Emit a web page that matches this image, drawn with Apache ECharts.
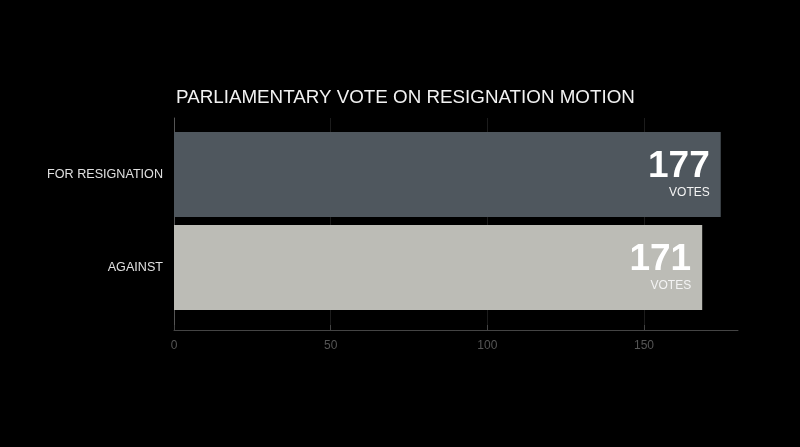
<!DOCTYPE html>
<html><head><meta charset="utf-8">
<script src="https://cdn.jsdelivr.net/npm/echarts@6/dist/echarts.min.js"></script>
<style>html,body{margin:0;padding:0;background:#000;}#c{width:800px;height:447px;}</style>
</head><body><div id="c"></div>
<script>
const categories = ['FOR RESIGNATION', 'AGAINST'];
const votes = [177, 171];
const barColors = ['#4f575e', '#bcbcb6'];
const xTicks = [0, 50, 100, 150];
const titleText = 'PARLIAMENTARY VOTE ON RESIGNATION MOTION';
const unitText = 'VOTES';

const FONT = '"Liberation Sans", Arial, sans-serif';
const chart = echarts.init(document.getElementById('c'));
chart.setOption({
  backgroundColor: '#000',
  animation: false,
  title: {
    text: titleText, left: 171, top: 83,
    textStyle: { color: '#f2f2f2', fontSize: 18.8, fontWeight: 'normal', fontFamily: FONT }
  },
  grid: [
    { left: 174, right: 70, top: 128, bottom: 133 },
    { left: 174, right: 62, top: 118, bottom: 117 }
  ],
  xAxis: [
    { gridIndex: 0, type: 'value', min: 0, max: 180, interval: 50, show: false },
    { gridIndex: 1, type: 'value', min: 0, max: 180, interval: 50,
      axisLine: { show: true, lineStyle: { color: '#444', width: 1 } },
      axisTick: { show: true, inside: true, length: 5, customValues: xTicks, lineStyle: { color: '#444' } },
      splitLine: { show: true, showMinLine: false, showMaxLine: true, lineStyle: { color: '#1c1c1c', width: 1 } },
      axisLabel: { color: '#555', fontSize: 12, margin: 10, fontFamily: FONT, customValues: xTicks } }
  ],
  yAxis: [
    { gridIndex: 0, type: 'category', data: categories, inverse: true,
      axisLine: { show: false }, axisTick: { show: false }, splitLine: { show: false },
      axisLabel: { color: '#e0e0e0', fontSize: 12.6, margin: 11, fontFamily: FONT, padding: [4, 0, 0, 0] } },
    { gridIndex: 1, type: 'value', min: 0, max: 1,
      axisLine: { show: true, lineStyle: { color: '#555', width: 1 } },
      axisTick: { show: false }, axisLabel: { show: false }, splitLine: { show: false } }
  ],
  series: [{
    type: 'bar', xAxisIndex: 0, yAxisIndex: 0, barWidth: 85,
    data: votes.map((v, i) => ({ value: v, itemStyle: { color: barColors[i] } })),
    label: {
      show: true, position: 'insideRight', distance: 11,
      formatter: p => '{n|' + p.value + '}\n{v|' + unitText + '}',
      rich: {
        n: { color: '#fff', fontSize: 37, fontWeight: 'bold', fontFamily: FONT, align: 'right', lineHeight: 36 },
        v: { color: '#f4f4f4', fontSize: 12, fontFamily: FONT, align: 'right', lineHeight: 16 }
      }
    }
  }]
});
</script></body></html>
